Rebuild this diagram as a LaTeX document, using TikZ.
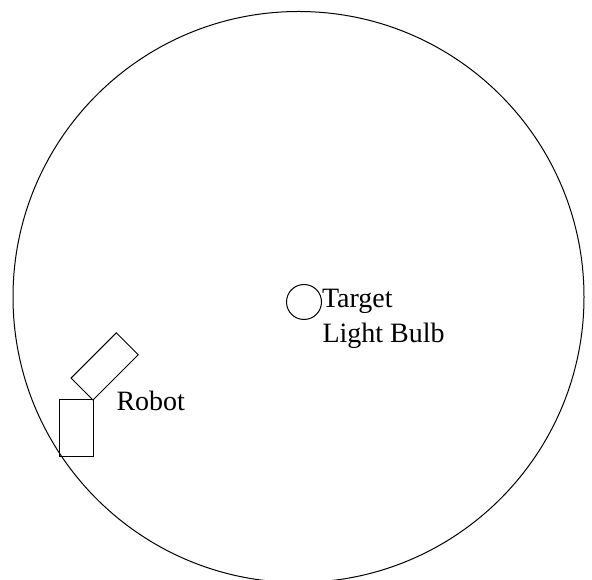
\documentclass[tikz,border=0pt]{standalone}
\usepackage{fontspec}
\setmainfont{Liberation Serif}
\usepackage{tikz}
\usetikzlibrary{calc}

\begin{document}
\begin{tikzpicture}[x=1pt, y=1pt, line width=1pt]
    \useasboundingbox (0,0) rectangle (592,580);
    \clip (0,0) rectangle (592,580);
    \tikzset{lbl/.style={anchor=base west, inner sep=0pt, font=\fontsize{28}{32}\selectfont}}
    \draw (298.5,283) circle (285.5);
    \draw (304,278) circle (17.5);
    \node[lbl] (target) at (321.5,272) {Target};
    \node[lbl] (bulbname) at (322,237) {Light Bulb};
    \draw (59,123) rectangle (93,180);
    \draw (93,180) -- ++(45:64) -- ++(135:31) -- ++(225:64) -- cycle;
    \node[lbl] (robot) at (116,169.5) {Robot};
\end{tikzpicture}
\end{document}
